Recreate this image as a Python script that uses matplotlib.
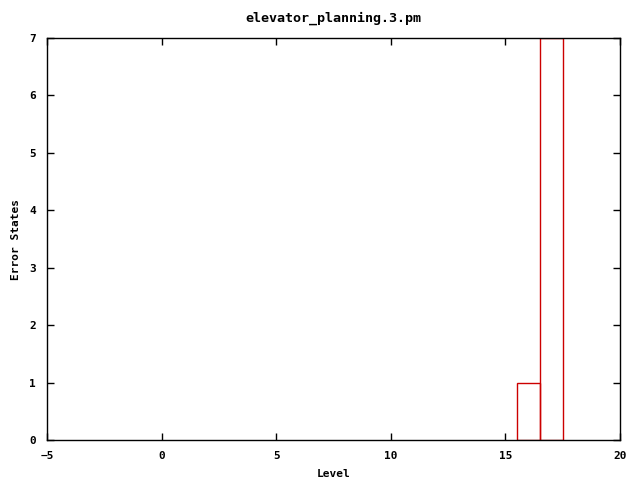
import matplotlib
matplotlib.use("Agg")
import matplotlib.pyplot as plt

levels = [16, 17]
error_states = [1, 7]
xticks = [-5, 0, 5, 10, 15, 20]
yticks = [0, 1, 2, 3, 4, 5, 6, 7]

plt.rcParams['font.family'] = 'DejaVu Sans Mono'
plt.rcParams['font.weight'] = 'bold'
plt.rcParams['font.size'] = 8

fig = plt.figure(figsize=(6.4, 4.8), dpi=100)
ax = fig.add_axes([47/640, 40/480, 573/640, 402/480])

ax.bar(levels, error_states, width=1.0, fill=False, edgecolor='#cc0000', linewidth=1)

ax.set_xlim(-5, 20)
ax.set_ylim(0, 7)
ax.set_xticks(xticks)
ax.set_yticks(yticks)
ax.tick_params(direction='in', top=True, right=True, length=5, width=1, pad=8)
for s in ax.spines.values():
    s.set_linewidth(1)

ax.set_xlabel("Level", fontweight='bold', labelpad=6)
ax.set_ylabel("Error States", fontweight='bold')
ax.yaxis.set_label_coords(-26/573, 0.5)
ax.set_title("elevator_planning.3.pm", fontweight='bold', pad=12)

fig.savefig("out.png", dpi=100)
